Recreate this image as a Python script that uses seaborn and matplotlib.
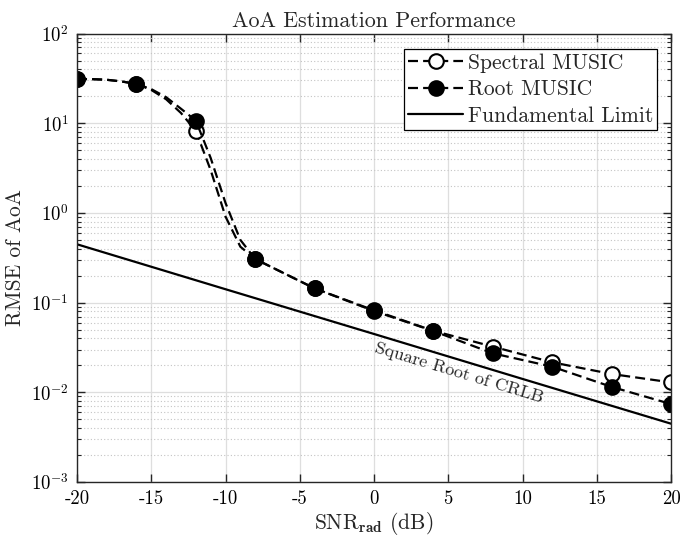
import numpy as np
import pandas as pd
import matplotlib
matplotlib.use("Agg")
import matplotlib.pyplot as plt
from matplotlib.ticker import LogLocator, NullFormatter
import seaborn as sns

# values
snr_db = [-20, -19, -18, -17, -16, -15, -14, -13, -12, -11, -10, -9, -8, -4, 0, 4, 8, 12, 16, 20]
rmse_spectral = [31.1, 31.0, 30.5, 29.2, 27.4, 23.5, 18.5, 13.0, 8.2, 3.0, 0.91, 0.42, 0.306,
                 0.144, 0.082, 0.0485, 0.0323, 0.0216, 0.016, 0.0129]
rmse_root = [31.1, 31.0, 30.5, 29.2, 27.4, 24.0, 19.5, 14.5, 10.7, 4.1, 1.29, 0.50, 0.306,
             0.144, 0.0806, 0.0482, 0.0272, 0.0193, 0.0115, 0.0074]
snr_crlb = [-20, -10, 0, 10, 20]
rmse_crlb = [0.447, 0.141, 0.0447, 0.0141, 0.00447]
marker_snr = [-20, -16, -12, -8, -4, 0, 4, 8, 12, 16, 20]

x_ticks = [-20, -15, -10, -5, 0, 5, 10, 15, 20]
x_tick_labels = ['-20', '-15', '-10', '-5', '0', '5', '10', '15', '20']
y_ticks = [1e-3, 1e-2, 1e-1, 1e0, 1e1, 1e2]
y_tick_labels = ['$10^{-3}$', '$10^{-2}$', '$10^{-1}$', '$10^{0}$', '$10^{1}$', '$10^{2}$']

sns.set_style("ticks")
plt.rcParams['font.family'] = ['cmr10', 'DejaVu Serif']
plt.rcParams['mathtext.fontset'] = 'cm'
plt.rcParams['axes.formatter.use_mathtext'] = True
plt.rcParams['axes.unicode_minus'] = False

df = pd.DataFrame({'snr': snr_db, 'spectral': rmse_spectral, 'root': rmse_root})
crlb = pd.DataFrame({'snr': snr_crlb, 'crlb': rmse_crlb})
mark_idx = [snr_db.index(s) for s in marker_snr]
dash = (0, (4.5, 2.3))

fig = plt.figure(figsize=(6.84, 5.37), dpi=100)
ax = fig.add_axes([0.1126, 0.1024, 0.8684, 0.8352])

sns.lineplot(data=df, x='snr', y='spectral', ax=ax, color='black', lw=1.6, linestyle=dash,
             marker='o', markevery=mark_idx, markersize=10.5, markerfacecolor='white',
             markeredgecolor='black', markeredgewidth=1.5, label='Spectral MUSIC')
sns.lineplot(data=df, x='snr', y='root', ax=ax, color='black', lw=1.6, linestyle=dash,
             marker='o', markevery=mark_idx, markersize=10.5, markerfacecolor='black',
             markeredgecolor='black', markeredgewidth=1.5, label='Root MUSIC')
sns.lineplot(data=crlb, x='snr', y='crlb', ax=ax, color='black', lw=1.6,
             label='Fundamental Limit')

ax.set_yscale('log')
ax.set_xlim(-20, 20)
ax.set_ylim(1e-3, 1e2)
ax.set_xticks(x_ticks, x_tick_labels)
ax.set_yticks(y_ticks, y_tick_labels)
ax.yaxis.set_minor_locator(LogLocator(base=10, subs=np.arange(2, 10), numticks=20))
ax.yaxis.set_minor_formatter(NullFormatter())

ax.grid(which='major', axis='both', color='#dedede', lw=0.9, ls='-')
ax.grid(which='minor', axis='y', color='#c4c4c4', lw=0.8, ls=(0, (1, 2)))
ax.set_axisbelow(True)

ax.tick_params(which='both', direction='in', top=True, right=True, colors='#262626',
               labelcolor='black', labelsize=13.5, pad=6)
ax.tick_params(which='major', length=6, width=1)
ax.tick_params(which='minor', length=3, width=0.8)
for s in ax.spines.values():
    s.set_color('#262626')
    s.set_linewidth(1.0)

ax.set_title('AoA Estimation Performance', fontsize=15.8, pad=5)
ax.set_xlabel('SNR$_{\\mathbf{rad}}$ (dB)', fontsize=15.5, labelpad=1)
ax.set_ylabel('RMSE of AoA', fontsize=15.5, labelpad=4)

ax.text(5.7, 0.0164, 'Square Root of CRLB', fontsize=13, rotation=-16.8,
        ha='center', va='center', rotation_mode='anchor')

leg = ax.legend(loc='upper right', bbox_to_anchor=(0.977, 0.965), fontsize=15.5,
                frameon=True, fancybox=False, framealpha=1, edgecolor='black',
                handlelength=2.55, handletextpad=0.2, borderpad=0.2, labelspacing=0.32,
                borderaxespad=0)
leg.get_frame().set_linewidth(0.9)

fig.savefig('out.png', dpi=100)
